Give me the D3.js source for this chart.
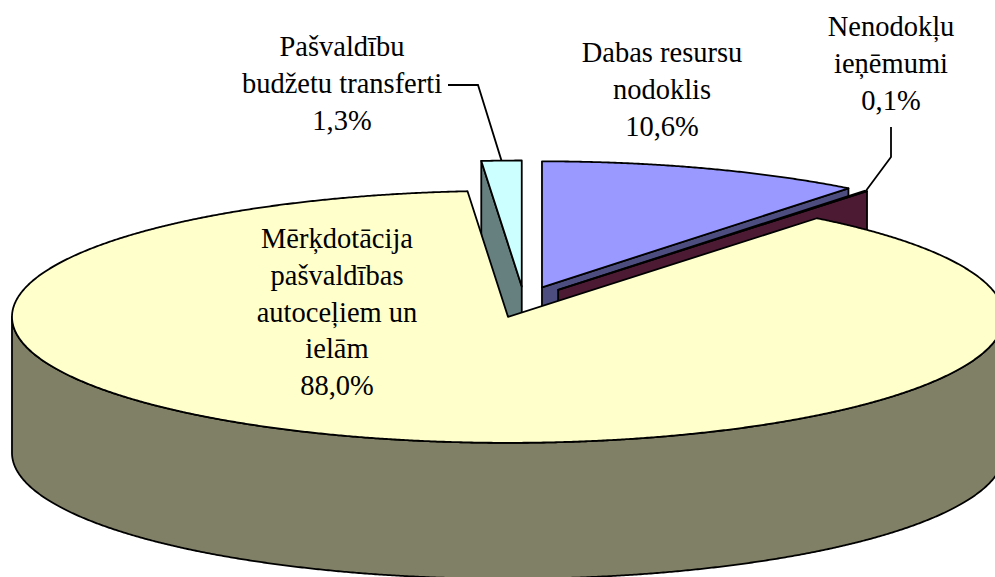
<!DOCTYPE html>
<html><head><meta charset="utf-8">
<script src="https://cdn.jsdelivr.net/npm/d3@7"></script>
<style>html,body{margin:0;padding:0;background:#fff;overflow:hidden}</style>
</head><body><svg id="chart" width="995" height="577"></svg>
<script>
// ---- data ----
const categories = ["Dabas resursu nodoklis", "Nenodokļu ieņēmumi", "Mērķdotācija pašvaldības autoceļiem un ielām", "Pašvaldību budžetu transferti"];
const labelLines = [["Dabas resursu", "nodoklis"], ["Nenodokļu", "ieņēmumi"], ["Mērķdotācija", "pašvaldības", "autoceļiem un", "ielām"], ["Pašvaldību", "budžetu transferti"]];
const values = [10.6, 0.1, 88.0, 1.3];

// ---- style / layout ----
const topColors = ["#9999FF", "#993366", "#FFFFCC", "#CCFFFF"];
const sideColors = ["#4D4D80", "#4D1A33", "#808066", "#668080"];
const labelLayout = [
  {x: 662, y: 62, leader: null},
  {x: 891, y: 36, leader: [[891, 127], [891, 157]]},
  {x: 337, y: 248, leader: null},
  {x: 342, y: 56, leader: [[448, 85], [478, 85]]}
];
const geo = {cx: 524, cy: 302, rx: 496, ry: 126, depth: 136, exX: 55, exY: 15.5};
const lineH = 36.8;

const svg = d3.select("#chart");
const pie = d3.pie().sort(null).value(d => d).startAngle(0).endAngle(2 * Math.PI);
const arcs = pie(values).map((a, i) => {
  const mid = (a.startAngle + a.endAngle) / 2;
  return {...a, i, mid, c: {x: geo.cx + geo.exX * Math.sin(mid), y: geo.cy - geo.exY * Math.cos(mid)}};
});

const rim = (c, a, dz = 0) => [c.x + geo.rx * Math.sin(a), c.y - geo.ry * Math.cos(a) + dz];
const arcPts = (c, a0, a1, dz = 0) => {
  const n = Math.max(2, Math.ceil(Math.abs(a1 - a0) / (Math.PI / 720)));
  return d3.range(n + 1).map(k => rim(c, a0 + (a1 - a0) * k / n, dz));
};
const line = d3.line().curve(d3.curveLinearClosed);
const g = svg.append("g");
const styleFace = (sel, col) => sel.attr("fill", col).attr("stroke", "#000").attr("stroke-width", 1.8).attr("stroke-linejoin", "round");

// painter's order: back slices first
const order = arcs.slice().sort((a, b) => a.c.y - b.c.y);
order.forEach(s => {
  const {c, startAngle: a0, endAngle: a1, i} = s;
  const D = geo.depth;
  const center = [c.x, c.y], centerB = [c.x, c.y + D];
  if (Math.sin(a0) < -1e-6) {
    styleFace(g.append("path").attr("d", line([center, rim(c, a0), rim(c, a0, D), centerB])), sideColors[i]);
  }
  if (Math.sin(a1) > 1e-6) {
    styleFace(g.append("path").attr("d", line([center, rim(c, a1), rim(c, a1, D), centerB])), sideColors[i]);
  }
  const w0 = Math.max(a0, Math.PI / 2), w1 = Math.min(a1, 3 * Math.PI / 2);
  if (w1 > w0) {
    const pts = arcPts(c, w0, w1).concat(arcPts(c, w1, w0, D));
    styleFace(g.append("path").attr("d", line(pts)), sideColors[i]);
  }
  const topPts = [center].concat(arcPts(c, a0, a1));
  styleFace(g.append("path").attr("d", line(topPts)), topColors[i]);
});

// leader lines
const fmt = v => d3.format(".1f")(v).replace(".", ",") + "%";
arcs.forEach(s => {
  const L = labelLayout[s.i];
  if (L.leader) {
    const pts = L.leader.concat([rim(s.c, s.mid)]);
    svg.append("path").attr("d", d3.line()(pts)).attr("fill", "none").attr("stroke", "#000").attr("stroke-width", 1.8);
  }
});

// labels
arcs.forEach(s => {
  const L = labelLayout[s.i];
  const lines = labelLines[s.i].concat([fmt(values[s.i])]);
  const t = svg.append("text").attr("text-anchor", "middle")
    .attr("font-family", "Liberation Serif")
    .attr("font-size", 28.5).attr("fill", "#000");
  lines.forEach((ln, k) => t.append("tspan").attr("x", L.x).attr("y", L.y + k * lineH).text(ln));
});
</script>
</body></html>
